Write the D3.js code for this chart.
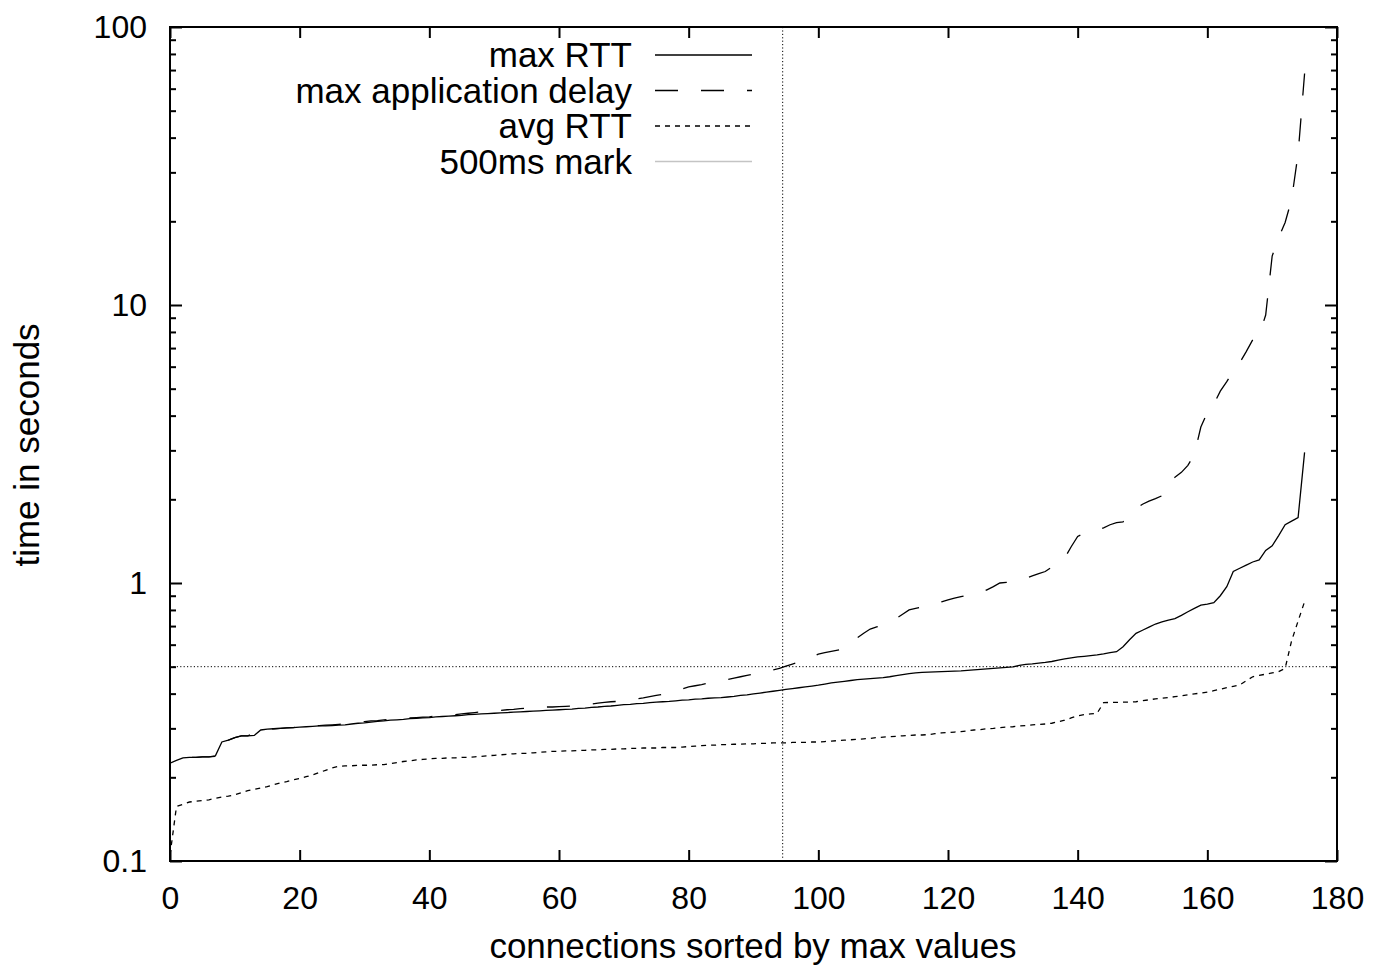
<!DOCTYPE html>
<html>
<head>
<meta charset="utf-8">
<script src="https://cdn.jsdelivr.net/npm/d3@7"></script>
<style>
  body { margin: 0; background: #fff; }
  svg text { font-family: "Liberation Sans", Arial, Helvetica, sans-serif; fill: #000; }
</style>
</head>
<body>
<div id="chart"></div>
<script>
// values, one per connection (index = rank after sorting)
const maxRtt = [
  0.225, 0.230, 0.235, 0.236, 0.236, 0.237, 0.237, 0.239, 0.268, 0.272,
  0.278, 0.282, 0.282, 0.283, 0.296, 0.298, 0.299, 0.300, 0.301, 0.302,
  0.303, 0.304, 0.305, 0.306, 0.306, 0.307, 0.308, 0.309, 0.311, 0.313,
  0.314, 0.316, 0.318, 0.319, 0.321, 0.322, 0.323, 0.325, 0.326, 0.327,
  0.328, 0.330, 0.331, 0.332, 0.333, 0.334, 0.336, 0.337, 0.338, 0.339,
  0.340, 0.341, 0.342, 0.343, 0.344, 0.345, 0.346, 0.347, 0.348, 0.349,
  0.350, 0.351, 0.352, 0.354, 0.355, 0.357, 0.358, 0.360, 0.361, 0.363,
  0.365, 0.366, 0.368, 0.369, 0.371, 0.373, 0.374, 0.375, 0.377, 0.379,
  0.380, 0.382, 0.383, 0.385, 0.386, 0.387, 0.389, 0.391, 0.394, 0.396,
  0.399, 0.402, 0.405, 0.408, 0.411, 0.414, 0.417, 0.420, 0.423, 0.426,
  0.429, 0.433, 0.437, 0.440, 0.443, 0.446, 0.449, 0.451, 0.453, 0.455,
  0.457, 0.460, 0.464, 0.468, 0.472, 0.475, 0.477, 0.478, 0.479, 0.480,
  0.481, 0.482, 0.483, 0.485, 0.487, 0.489, 0.491, 0.493, 0.495, 0.497,
  0.499, 0.505, 0.510, 0.512, 0.515, 0.518, 0.522, 0.528, 0.533, 0.538,
  0.542, 0.545, 0.548, 0.551, 0.556, 0.562, 0.566, 0.590, 0.625, 0.659,
  0.676, 0.694, 0.712, 0.724, 0.736, 0.745, 0.765, 0.788, 0.810, 0.833,
  0.840, 0.850, 0.900, 0.970, 1.10, 1.13, 1.16, 1.19, 1.21, 1.31,
  1.36, 1.48, 1.62, 1.67, 1.72, 2.95
];

const maxAppDelay = [
  0.225, 0.231, 0.235, 0.236, 0.236, 0.237, 0.237, 0.238, 0.240, 0.272,
  0.278, 0.282, 0.282, 0.289, 0.296, 0.298, 0.299, 0.300, 0.301, 0.302,
  0.303, 0.305, 0.306, 0.307, 0.308, 0.309, 0.310, 0.311, 0.313, 0.315,
  0.317, 0.319, 0.320, 0.322, 0.323, 0.325, 0.326, 0.327, 0.328, 0.329,
  0.330, 0.332, 0.333, 0.335, 0.336, 0.338, 0.340, 0.342, 0.344, 0.346,
  0.347, 0.348, 0.350, 0.351, 0.353, 0.355, 0.356, 0.357, 0.358, 0.358,
  0.359, 0.360, 0.361, 0.362, 0.364, 0.367, 0.370, 0.372, 0.374, 0.375,
  0.377, 0.380, 0.383, 0.386, 0.390, 0.394, 0.398, 0.402, 0.408, 0.416,
  0.423, 0.427, 0.431, 0.436, 0.440, 0.445, 0.450, 0.455, 0.460, 0.465,
  0.470, 0.475, 0.481, 0.487, 0.493, 0.502, 0.511, 0.520, 0.528, 0.541,
  0.555, 0.562, 0.568, 0.574, 0.579, 0.610, 0.635, 0.660, 0.683, 0.695,
  0.708, 0.720, 0.745, 0.772, 0.800, 0.810, 0.820, 0.830, 0.840, 0.855,
  0.870, 0.883, 0.893, 0.903, 0.912, 0.921, 0.945, 0.970, 1.00, 1.005,
  1.01, 1.017, 1.04, 1.06, 1.08, 1.10, 1.14, 1.18, 1.23, 1.35,
  1.47, 1.51, 1.53, 1.55, 1.58, 1.62, 1.65, 1.66, 1.75, 1.85,
  1.92, 1.97, 2.01, 2.06, 2.30, 2.40, 2.50, 2.65, 2.90, 3.64,
  4.10, 4.40, 4.90, 5.30, 5.80, 6.20, 6.80, 7.50, 7.80, 9.20,
  15.0, 17.5, 19.8, 24.0, 35.0, 68.0
];

const avgRtt = [
  0.105, 0.157, 0.160, 0.163, 0.164, 0.165, 0.166, 0.168, 0.170, 0.171,
  0.173, 0.176, 0.179, 0.181, 0.183, 0.185, 0.188, 0.191, 0.193, 0.196,
  0.198, 0.201, 0.204, 0.208, 0.212, 0.216, 0.219, 0.220, 0.220, 0.221,
  0.221, 0.221, 0.222, 0.222, 0.224, 0.226, 0.228, 0.229, 0.231, 0.232,
  0.233, 0.234, 0.234, 0.235, 0.235, 0.236, 0.236, 0.237, 0.238, 0.239,
  0.240, 0.241, 0.242, 0.243, 0.244, 0.244, 0.245, 0.246, 0.247, 0.248,
  0.248, 0.249, 0.249, 0.250, 0.250, 0.251, 0.251, 0.252, 0.252, 0.253,
  0.253, 0.254, 0.254, 0.255, 0.255, 0.255, 0.256, 0.256, 0.256, 0.257,
  0.258, 0.259, 0.260, 0.261, 0.261, 0.262, 0.262, 0.263, 0.263, 0.264,
  0.264, 0.265, 0.265, 0.266, 0.266, 0.266, 0.267, 0.267, 0.267, 0.268,
  0.268, 0.269, 0.270, 0.271, 0.272, 0.273, 0.274, 0.275, 0.276, 0.278,
  0.279, 0.280, 0.281, 0.282, 0.283, 0.284, 0.284, 0.285, 0.287, 0.289,
  0.290, 0.291, 0.292, 0.294, 0.296, 0.297, 0.299, 0.300, 0.302, 0.303,
  0.304, 0.306, 0.307, 0.309, 0.310, 0.311, 0.313, 0.317, 0.321, 0.327,
  0.333, 0.336, 0.338, 0.340, 0.371, 0.372, 0.372, 0.373, 0.373, 0.374,
  0.377, 0.380, 0.383, 0.385, 0.387, 0.390, 0.393, 0.396, 0.399, 0.402,
  0.405, 0.410, 0.415, 0.420, 0.425, 0.430, 0.445, 0.460, 0.465, 0.470,
  0.475, 0.480, 0.493, 0.620, 0.730, 0.857
];

const xTicks = [0, 20, 40, 60, 80, 100, 120, 140, 160, 180];
const yTicks = [0.1, 1, 10, 100];
const yTickLabels = ["0.1", "1", "10", "100"];
const markDelay = 0.5;      // 500ms mark
const markIndex = 94.5;     // vertical marker
const legendLabels = ["max RTT", "max application delay", "avg RTT", "500ms mark"];

const width = 1377, height = 967;
const plot = { left: 170, right: 1337, top: 27, bottom: 861 };
const tickFont = 32, labelFont = 35;

const svg = d3.select("#chart").append("svg")
  .attr("width", width)
  .attr("height", height);

const x = d3.scaleLinear().domain([0, 180]).range([plot.left, plot.right]);
const y = d3.scaleLog().domain([0.1, 100]).range([plot.bottom, plot.top]);

svg.append("clipPath").attr("id", "clip")
  .append("rect")
  .attr("x", plot.left).attr("y", plot.top)
  .attr("width", plot.right - plot.left)
  .attr("height", plot.bottom - plot.top);

const line = d3.line().x((d, i) => x(i)).y(d => y(d));

const series = [
  { values: maxRtt, dash: null },
  { values: maxAppDelay, dash: "23,23", period: 46 },
  { values: avgRtt, dash: "5,5" }
];

const plotArea = svg.append("g").attr("clip-path", "url(#clip)");

// reference marks
plotArea.append("line")
  .attr("x1", plot.left).attr("x2", plot.right)
  .attr("y1", y(markDelay)).attr("y2", y(markDelay))
  .attr("stroke", "#000").attr("stroke-width", 1)
  .attr("stroke-dasharray", "1.2,2.2");

plotArea.append("line")
  .attr("x1", x(markIndex)).attr("x2", x(markIndex))
  .attr("y1", plot.top).attr("y2", plot.bottom)
  .attr("stroke", "#000").attr("stroke-width", 1)
  .attr("stroke-dasharray", "1.2,2.2");

series.forEach(s => {
  const p = plotArea.append("path")
    .attr("d", line(s.values))
    .attr("fill", "none")
    .attr("stroke", "#000")
    .attr("stroke-width", 1.3)
    .attr("stroke-dasharray", s.dash);
  // make the long-dash line end on a dash, not a gap
  if (s.period) {
    const len = p.node().getTotalLength();
    p.attr("stroke-dashoffset", 22 - (len % s.period));
  }
});

// axes: ticks point inward, mirrored on all four sides
const minorY = y.ticks().filter(v => !yTicks.includes(v));

function styleAxis(g) {
  g.select(".domain").remove();
  g.selectAll(".tick line").attr("stroke", "#000").attr("stroke-width", 2);
  g.selectAll(".tick text").attr("font-size", tickFont).attr("fill", "#000")
    .attr("font-family", '"Liberation Sans", Arial, sans-serif');
}

svg.append("g")
  .attr("transform", `translate(0,${plot.bottom})`)
  .call(d3.axisBottom(x).tickValues(xTicks).tickSizeInner(-11).tickSizeOuter(0).tickPadding(25))
  .call(styleAxis);

svg.append("g")
  .attr("transform", `translate(0,${plot.top})`)
  .call(d3.axisTop(x).tickValues(xTicks).tickSizeInner(-11).tickSizeOuter(0).tickFormat(""))
  .call(styleAxis);

svg.append("g")
  .attr("transform", `translate(${plot.left},0)`)
  .call(d3.axisLeft(y).tickValues(yTicks).tickFormat((d, i) => yTickLabels[i])
    .tickSizeInner(-12).tickSizeOuter(0).tickPadding(23))
  .call(styleAxis);

svg.append("g")
  .attr("transform", `translate(${plot.left},0)`)
  .call(d3.axisLeft(y).tickValues(minorY).tickFormat("").tickSizeInner(-6).tickSizeOuter(0))
  .call(styleAxis);

svg.append("g")
  .attr("transform", `translate(${plot.right},0)`)
  .call(d3.axisRight(y).tickValues(yTicks).tickFormat("").tickSizeInner(-12).tickSizeOuter(0))
  .call(styleAxis);

svg.append("g")
  .attr("transform", `translate(${plot.right},0)`)
  .call(d3.axisRight(y).tickValues(minorY).tickFormat("").tickSizeInner(-6).tickSizeOuter(0))
  .call(styleAxis);

// frame
svg.append("rect")
  .attr("x", plot.left).attr("y", plot.top)
  .attr("width", plot.right - plot.left)
  .attr("height", plot.bottom - plot.top)
  .attr("fill", "none")
  .attr("stroke", "#000")
  .attr("stroke-width", 2);

// axis titles
svg.append("text")
  .attr("x", 753).attr("y", 958)
  .attr("text-anchor", "middle")
  .attr("font-size", labelFont)
  .text("connections sorted by max values");

svg.append("text")
  .attr("transform", "translate(39,445) rotate(-90)")
  .attr("text-anchor", "middle")
  .attr("font-size", labelFont)
  .text("time in seconds");

// legend
const legendStyles = [
  { stroke: "#000", dash: null },
  { stroke: "#000", dash: "23,23" },
  { stroke: "#000", dash: "5,5" },
  { stroke: "#c4c4c4", dash: null }
];

const legend = svg.selectAll(".legend")
  .data(legendLabels)
  .enter()
  .append("g")
  .attr("class", "legend")
  .attr("transform", (d, i) => `translate(0, ${67 + i * 35.5})`);

legend.append("text")
  .attr("x", 632)
  .attr("y", 0)
  .attr("text-anchor", "end")
  .attr("font-size", labelFont)
  .text(d => d);

legend.append("line")
  .attr("x1", 655).attr("x2", 752)
  .attr("y1", -12).attr("y2", -12)
  .attr("stroke", (d, i) => legendStyles[i].stroke)
  .attr("stroke-width", (d, i) => i === 3 ? 1.6 : 1.3)
  .attr("stroke-dasharray", (d, i) => legendStyles[i].dash);
</script>
</body>
</html>
